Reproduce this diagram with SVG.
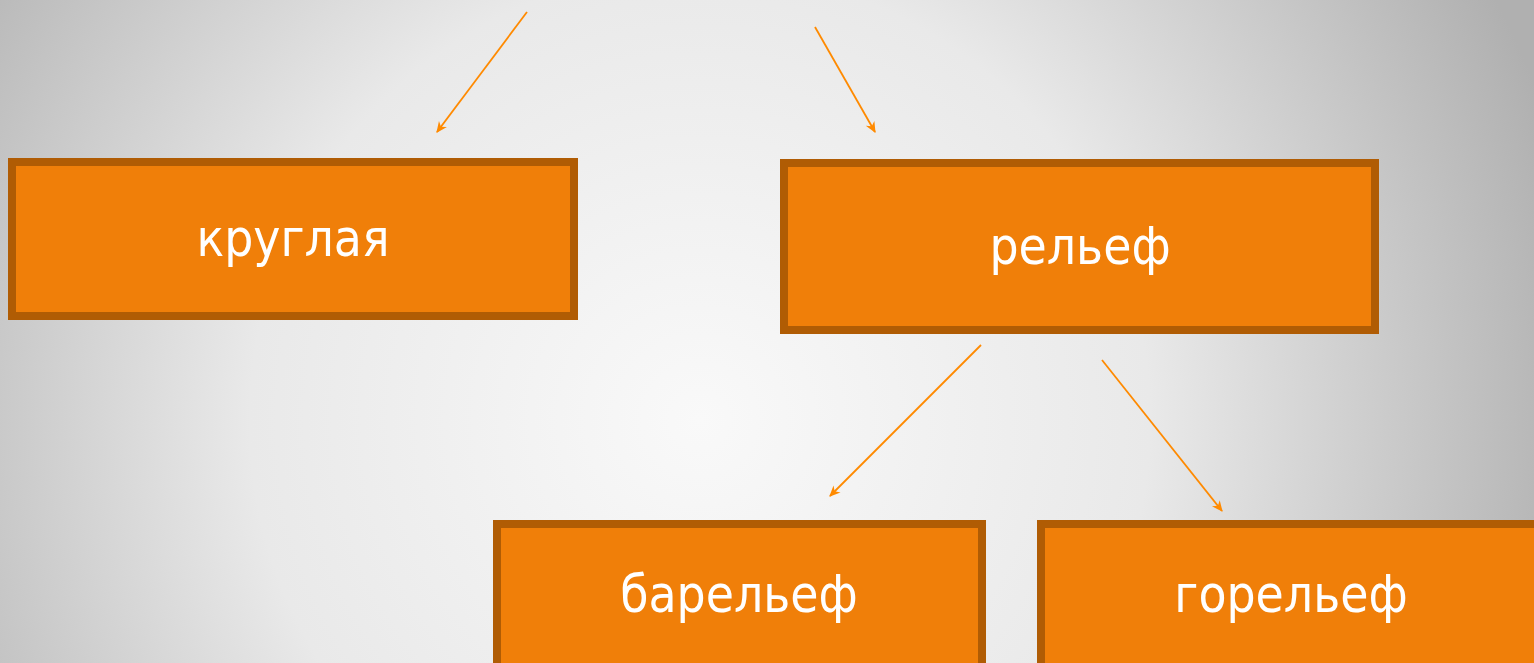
<svg xmlns="http://www.w3.org/2000/svg" width="1534" height="663" viewBox="0 0 1534 663">
<defs>
<radialGradient id="bg" cx="700" cy="420" r="900" gradientUnits="userSpaceOnUse">
<stop offset="0" stop-color="#f9f9f9"/>
<stop offset="0.5" stop-color="#e9e9e9"/>
<stop offset="1" stop-color="#b0b0b0"/>
</radialGradient>
<marker id="ah" viewBox="0 0 10 10" refX="9" refY="5" markerWidth="12" markerHeight="11" orient="auto" markerUnits="userSpaceOnUse">
<path d="M0,0.5 L10,5 L0,9.5 L3,5 Z" fill="#ff8a00"/>
</marker>
<style>
.box{fill:#f07f09;stroke:#b05c04;stroke-width:8}
.lbl{font-family:"DejaVu Sans Condensed","DejaVu Sans",sans-serif;font-size:51px;fill:#ffffff;text-anchor:middle}
.con{stroke:#ff8a00;stroke-width:1.8;fill:none;marker-end:url(#ah)}
</style>
</defs>
<rect x="0" y="0" width="1534" height="663" fill="url(#bg)"/>
<g id="connectors">
<line class="con" x1="527" y1="12" x2="437" y2="132"/>
<line class="con" x1="815" y1="27" x2="875" y2="132"/>
<line class="con" x1="981" y1="345" x2="830" y2="496"/>
<line class="con" x1="1102" y1="360" x2="1222" y2="511"/>
</g>
<g id="node-kruglaya">
<rect class="box" x="12" y="162" width="562" height="154"/>
<text class="lbl" x="293" y="256">круглая</text>
</g>
<g id="node-relief">
<rect class="box" x="784" y="163" width="591" height="167"/>
<text class="lbl" x="1080" y="264">рельеф</text>
</g>
<g id="node-barelief">
<rect class="box" x="497" y="524" width="485" height="150"/>
<text class="lbl" x="739" y="612">барельеф</text>
</g>
<g id="node-gorelief">
<rect class="box" x="1041" y="524" width="504" height="150"/>
<text class="lbl" x="1291" y="612">горельеф</text>
</g>
</svg>
